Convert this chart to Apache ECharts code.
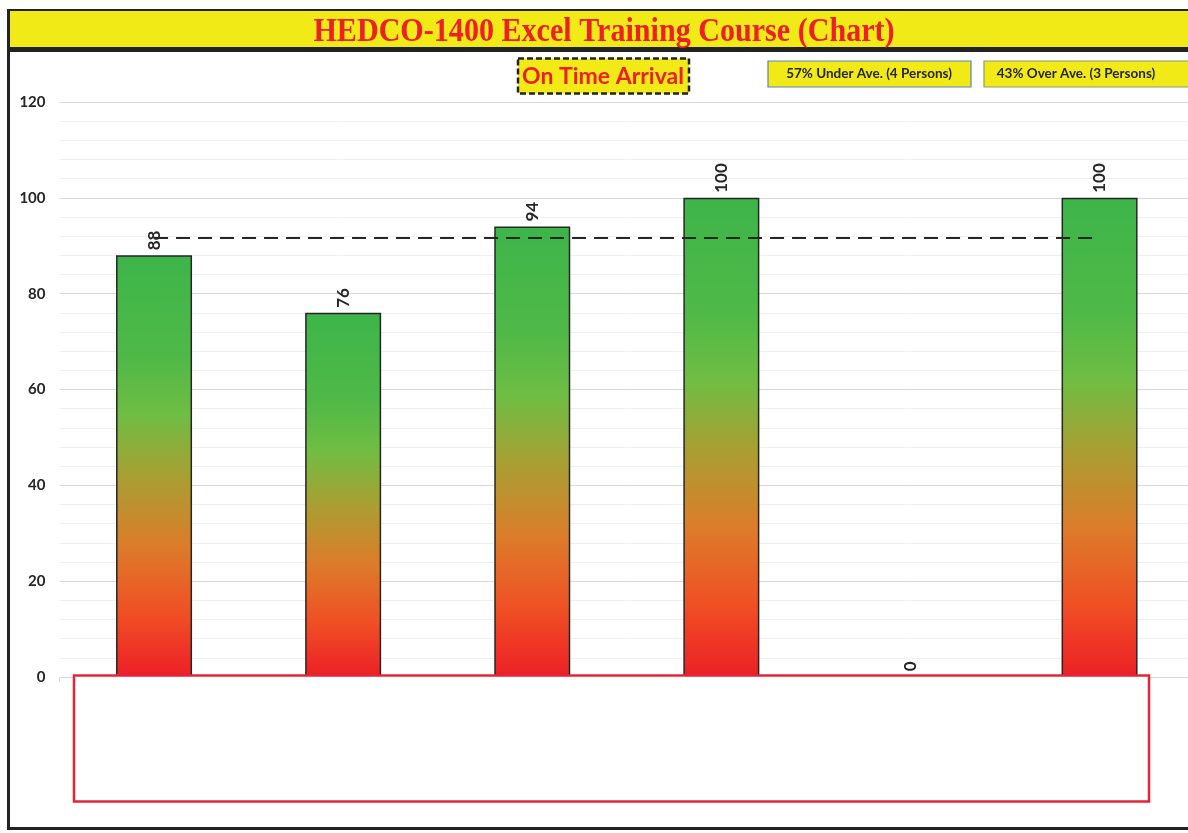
<!DOCTYPE html>
<html>
<head>
<meta charset="utf-8">
<script src="https://cdn.jsdelivr.net/npm/echarts@6/dist/echarts.min.js"></script>
<style>html,body{margin:0;padding:0;background:#fff;overflow:hidden;}#c{width:1210px;height:833px;}</style>
</head>
<body>
<div id="c"></div>
<script>
var categories = ["1", "2", "3", "4", "5", "6"];
var scores = [88, 76, 94, 100, 0, 100];
var averageValue = 91.6;
var yTicks = [0, 20, 40, 60, 80, 100, 120];
var titleText = "HEDCO-1400 Excel Training Course (Chart)";
var subTitle = "On Time Arrival";
var noteUnder = "57% Under Ave. (4 Persons)";
var noteOver = "43% Over Ave. (3 Persons)";

var avgLine = categories.map(function () { return averageValue; });

var chart = echarts.init(document.getElementById('c'));
var barGrad = new echarts.graphic.LinearGradient(0, 0, 0, 1, [
  {offset: 0, color: '#3db54a'},
  {offset: 0.24, color: '#4fb947'},
  {offset: 0.38, color: '#70bd43'},
  {offset: 0.53, color: '#aa9e32'},
  {offset: 0.69, color: '#dc7c2a'},
  {offset: 0.85, color: '#f04f24'},
  {offset: 1, color: '#ec1f26'}
]);

chart.setOption({
  animation: false,
  backgroundColor: '#fff',
  grid: {left: 59.5, top: 102, width: 1134.6, height: 575, containLabel: false},
  xAxis: {
    type: 'category',
    data: categories,
    boundaryGap: true,
    axisLine: {lineStyle: {color: '#d9d9d9', width: 1}},
    axisTick: {show: true, length: 5, lineStyle: {color: '#d9d9d9'}},
    axisLabel: {show: false}
  },
  yAxis: {
    type: 'value',
    min: yTicks[0],
    max: yTicks[yTicks.length - 1],
    interval: 20,
    axisLine: {show: false},
    axisTick: {show: false},
    axisLabel: {color: '#262626', fontFamily: 'Lato', fontWeight: 'bold', fontSize: 15, margin: 14},
    splitLine: {lineStyle: {color: '#d9d9d9', width: 1}},
    minorTick: {show: false, splitNumber: 5},
    minorSplitLine: {show: true, lineStyle: {color: '#f0f0f0', width: 1}}
  },
  series: [
    {
      type: 'bar',
      data: scores,
      barWidth: 76,
      itemStyle: {color: barGrad, borderColor: '#262626', borderWidth: 1.5},
      label: {
        show: true,
        position: 'top',
        rotate: 90,
        align: 'left',
        verticalAlign: 'middle',
        distance: 5,
        color: '#262626',
        fontFamily: 'Lato',
        fontWeight: 'bold',
        fontSize: 17
      },
      z: 2
    },
    {
      type: 'line',
      data: avgLine,
      symbol: 'none',
      lineStyle: {color: '#262626', width: 2, type: [14, 8]},
      z: 3
    }
  ],
  graphic: [
    {type: 'rect', z: 10, shape: {x: 8, y: 10, width: 1210, height: 38}, style: {fill: '#f2ea16', stroke: '#222', lineWidth: 2}},
    {type: 'rect', z: 11, shape: {x: 8, y: 48, width: 1210, height: 4}, style: {fill: '#222'}},
    {type: 'text', z: 12, x: 604, y: 32, scaleX: 0.885, style: {text: titleText, fill: '#ec2026', font: 'bold 34px "Liberation Serif"', textAlign: 'center', textVerticalAlign: 'middle'}},
    {type: 'rect', z: 10, shape: {x: 7, y: 10, width: 3, height: 820}, style: {fill: '#222'}},
    {type: 'rect', z: 10, shape: {x: 7, y: 827, width: 1210, height: 3}, style: {fill: '#222'}},
    {type: 'rect', z: 10, shape: {x: 518, y: 58.5, width: 171, height: 35}, style: {fill: '#f2ea16', stroke: '#222', lineWidth: 2.5, lineDash: [6, 3]}},
    {type: 'text', z: 12, x: 603, y: 77, style: {text: subTitle, fill: '#ec2026', font: 'bold 23px Lato', textAlign: 'center', textVerticalAlign: 'middle'}},
    {type: 'rect', z: 10, shape: {x: 768, y: 61, width: 203, height: 26}, style: {fill: '#f2ea16', stroke: '#5a84b8', lineWidth: 1.2}},
    {type: 'text', z: 12, x: 869, y: 74, style: {text: noteUnder, fill: '#262626', font: 'bold 13.5px Lato', textAlign: 'center', textVerticalAlign: 'middle'}},
    {type: 'rect', z: 10, shape: {x: 984, y: 61, width: 240, height: 26}, style: {fill: '#f2ea16', stroke: '#8a9a78', lineWidth: 1.2}},
    {type: 'text', z: 12, x: 1076, y: 74, style: {text: noteOver, fill: '#262626', font: 'bold 13.5px Lato', textAlign: 'center', textVerticalAlign: 'middle'}},
    {type: 'rect', z: 10, shape: {x: 74, y: 675.5, width: 1075, height: 126}, style: {fill: '#fff', stroke: '#e4243a', lineWidth: 2.5}}
  ]
});
</script>
</body>
</html>
